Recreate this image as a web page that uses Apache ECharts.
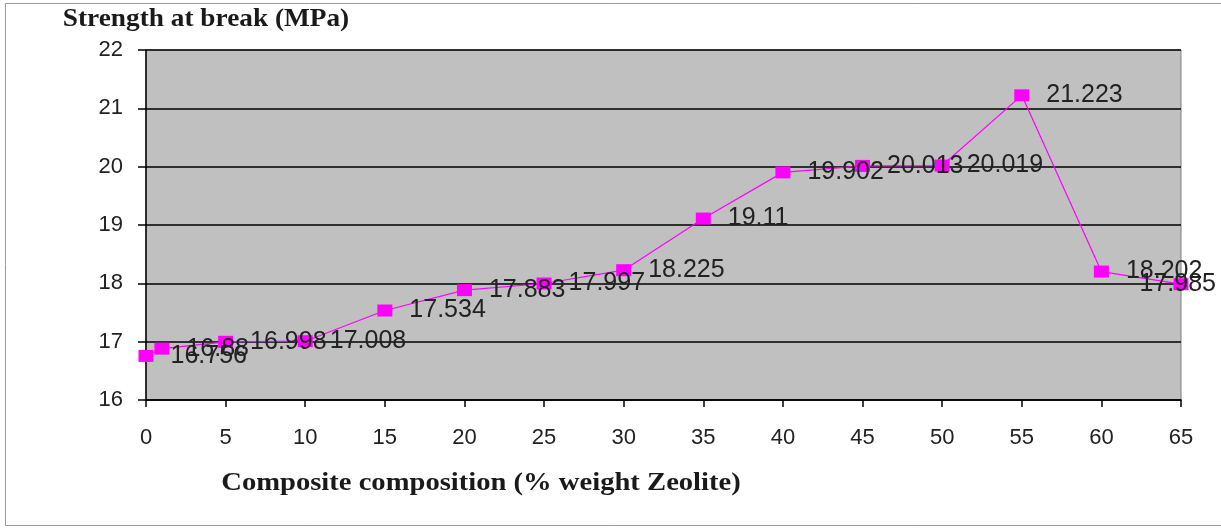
<!DOCTYPE html>
<html>
<head>
<meta charset="utf-8">
<script src="https://cdn.jsdelivr.net/npm/echarts@6/dist/echarts.min.js"></script>
<style>
  html, body { margin: 0; padding: 0; background: #fff; }
  #chart { width: 1221px; height: 529px; }
</style>
</head>
<body>
<div id="chart"></div>
<script>
// Zeolite content (% weight) and tensile strength at break (MPa)
const zeolitePct = [0, 1, 5, 10, 15, 20, 25, 30, 35, 40, 45, 50, 55, 60, 65];
const strengthMPa = [16.756, 16.88, 16.998, 17.008, 17.534, 17.883, 17.997, 18.225, 19.11, 19.902, 20.013, 20.019, 21.223, 18.202, 17.985];
const xTicks = [0, 5, 10, 15, 20, 25, 30, 35, 40, 45, 50, 55, 60, 65];
const yTicks = [16, 17, 18, 19, 20, 21, 22];

const yAxisTitle = 'Strength at break (MPa)';
const xAxisTitle = 'Composite composition (% weight Zeolite)';

const lastIdx = zeolitePct.length - 1;
const points = zeolitePct.map((x, i) => [x, strengthMPa[i]]);

const serifBold = 'bold 26px "Liberation Serif", "Times New Roman", serif';
const sans = '"Liberation Sans", Arial, sans-serif';

const chart = echarts.init(document.getElementById('chart'));
chart.setOption({
  backgroundColor: '#ffffff',
  animation: false,
  graphic: [
    {
      type: 'rect',
      shape: { x: 5.5, y: 3.5, width: 1230, height: 522 },
      style: { fill: 'none', stroke: '#9a9a9a', lineWidth: 1 },
      silent: true
    },
    {
      type: 'text',
      x: 206, y: 19, scaleX: 1.05,
      style: { text: yAxisTitle, font: serifBold, fill: '#1a1a1a', align: 'center', verticalAlign: 'middle' }
    },
    {
      type: 'text',
      x: 481, y: 483, scaleX: 1.1,
      style: { text: xAxisTitle, font: serifBold, fill: '#1a1a1a', align: 'center', verticalAlign: 'middle' }
    }
  ],
  grid: {
    left: 146, right: 40, top: 50, bottom: 129,
    show: true,
    backgroundColor: '#c0c0c0',
    borderColor: '#808080',
    borderWidth: 1
  },
  xAxis: {
    type: 'value',
    min: 0, max: 65, interval: 5,
    axisLine: { show: true, lineStyle: { color: '#000', width: 1.5 } },
    axisTick: { show: true, length: 7, lineStyle: { color: '#000', width: 1.5 } },
    axisLabel: {
      margin: 27,
      fontSize: 22, color: '#222', fontFamily: sans,
      customValues: xTicks
    },
    splitLine: { show: false }
  },
  yAxis: {
    type: 'value',
    min: 16, max: 22, interval: 1,
    axisLine: { show: true, lineStyle: { color: '#000', width: 1.5 } },
    axisTick: { show: true, length: 8, lineStyle: { color: '#000', width: 1.5 } },
    axisLabel: {
      margin: 23,
      fontSize: 22, color: '#222', fontFamily: sans,
      customValues: yTicks
    },
    splitLine: { show: true, lineStyle: { color: '#000', width: 1.5 } }
  },
  series: [{
    type: 'line',
    data: points,
    symbol: 'rect',
    symbolSize: [15, 12],
    itemStyle: { color: '#ff00ff' },
    lineStyle: { color: '#ff00ff', width: 1.2 },
    label: {
      show: true,
      position: 'right',
      distance: 17,
      offset: [0, 2],
      formatter: p => String(p.value[1]),
      fontSize: 25,
      color: '#222',
      fontFamily: sans
    },
    // the last label is pulled back so it stays inside the chart area
    labelLayout: p => (p.dataIndex === lastIdx ? { dx: -66, hideOverlap: false } : { hideOverlap: false }),
    z: 5
  }]
});
</script>
</body>
</html>
